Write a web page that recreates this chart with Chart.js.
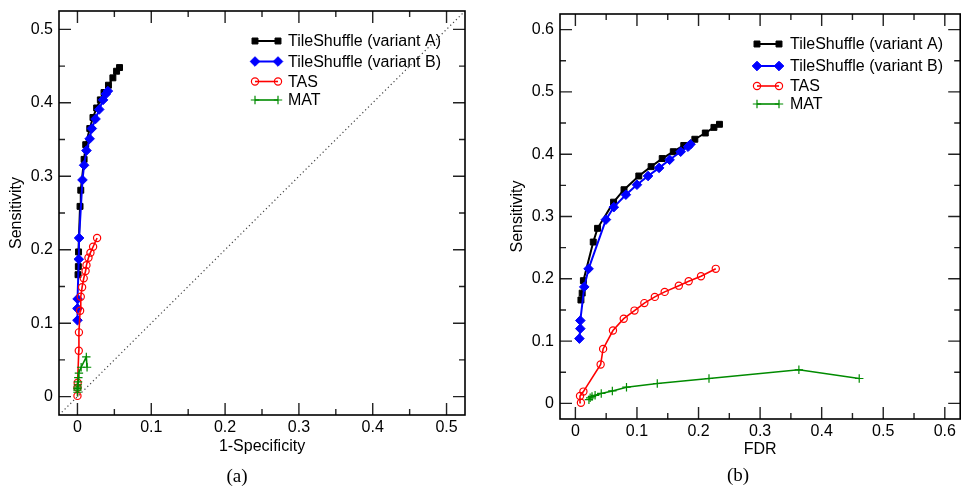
<!DOCTYPE html>
<html>
<head>
<meta charset="utf-8">
<script src="https://cdn.jsdelivr.net/npm/chart.js@4.4.0/dist/chart.umd.min.js"></script>
<style>
  html, body { margin: 0; padding: 0; background: #fff; }
  #wrap { position: relative; width: 966px; height: 490px; }
  .panel { position: absolute; top: 0; width: 483px; height: 490px; }
</style>
</head>
<body>
<div id="wrap">
  <div class="panel" style="left:0"><canvas id="rocA" width="483" height="490"></canvas></div>
  <div class="panel" style="left:483px"><canvas id="rocB" width="483" height="490"></canvas></div>
</div>
<script>
// Series names
var seriesNames = ["TileShuffle (variant A)", "TileShuffle (variant B)", "TAS", "MAT"];

// TileShuffle variant A
var sensA = [0.166, 0.177, 0.197, 0.259, 0.281, 0.323, 0.343, 0.365, 0.380, 0.393, 0.404, 0.414, 0.424, 0.434, 0.443, 0.448];
var fprA = [0.0008, 0.0012, 0.0015, 0.0035, 0.0045, 0.009, 0.0112, 0.0167, 0.021, 0.026, 0.031, 0.036, 0.042, 0.048, 0.053, 0.057];
var fdrA = [0.009, 0.011, 0.013, 0.029, 0.036, 0.062, 0.079, 0.103, 0.123, 0.141, 0.159, 0.176, 0.194, 0.211, 0.225, 0.234];

// TileShuffle variant B
var sensB = [0.104, 0.120, 0.133, 0.187, 0.216, 0.295, 0.315, 0.335, 0.351, 0.365, 0.378, 0.391, 0.404, 0.412, 0.416];
var fprB = [0.0, 0.0, 0.0002, 0.0018, 0.0022, 0.0068, 0.009, 0.0122, 0.0165, 0.0195, 0.0245, 0.0295, 0.0347, 0.0385, 0.0412];
var fdrB = [0.0065, 0.008, 0.008, 0.0144, 0.0214, 0.0496, 0.0624, 0.082, 0.100, 0.118, 0.136, 0.153, 0.171, 0.183, 0.187];

// TAS
var sensTAS = [0.001, 0.012, 0.019, 0.0625, 0.0875, 0.117, 0.136, 0.149, 0.161, 0.171, 0.179, 0.189, 0.196, 0.204, 0.216];
var fprTAS = [0.0, 0.0, 0.0003, 0.0018, 0.002, 0.0036, 0.0045, 0.0063, 0.0085, 0.011, 0.0122, 0.0149, 0.0176, 0.0212, 0.0266];
var fdrTAS = [0.009, 0.0075, 0.013, 0.041, 0.045, 0.061, 0.0785, 0.096, 0.112, 0.129, 0.145, 0.168, 0.184, 0.204, 0.228];

// MAT
var sensMAT = [0.006, 0.009, 0.011, 0.013, 0.016, 0.020, 0.026, 0.032, 0.040, 0.054, 0.040];
var fprMAT = [0.0, 0.0, 0.0, 0.0003, 0.0005, 0.0008, 0.0012, 0.002, 0.005, 0.012, 0.013];
var fdrMAT = [0.022, 0.024, 0.027, 0.032, 0.042, 0.060, 0.083, 0.133, 0.217, 0.363, 0.461];

// Tick labels
var ticksA = [0, 0.1, 0.2, 0.3, 0.4, 0.5];
var ticksB = [0, 0.1, 0.2, 0.3, 0.4, 0.5, 0.6];
var diagonal = [-0.025, 0.525];

var FONT = "'Liberation Sans', Arial, sans-serif";

function series(xList, yList) {
  return xList.map(function (x, i) {
    return { x: x, y: yList[i] };
  });
}

// styles shared by the chart and the legend
var styles = [
  { color: "#000000", fill: "#000000", width: 2, point: "rect", radius: 4.2, pw: 1 },
  { color: "#0000ff", fill: "#0000ff", width: 2, point: "rectRot", radius: 4.8, pw: 1 },
  { color: "#ff0000", fill: "rgba(0,0,0,0)", width: 1.6, point: "circle", radius: 3.6, pw: 1.2 },
  { color: "#008b00", fill: "#008b00", width: 1.6, point: "cross", radius: 4.2, pw: 1.2 },
];

function makeDatasets(xLists, yLists, withDiagonal) {
  var sets = xLists.map(function (xs, i) {
    var s = styles[i];
    return {
      label: seriesNames[i],
      data: series(xs, yLists[i]),
      showLine: true,
      borderColor: s.color,
      backgroundColor: s.fill,
      borderWidth: s.width,
      pointStyle: s.point,
      pointRadius: s.radius,
      pointBorderWidth: s.pw,
      pointBorderColor: s.color,
      pointBackgroundColor: s.fill,
      order: 4 - i,
    };
  });
  if (withDiagonal) {
    sets.push({
      label: "diag",
      data: series(diagonal, diagonal),
      showLine: true,
      borderColor: "#444",
      borderWidth: 1.2,
      borderDash: [1.2, 2.8],
      pointRadius: 0,
      order: 10,
    });
  }
  return sets;
}

function drawMarker(ctx, s, x, y) {
  var r = s.radius;
  ctx.save();
  ctx.strokeStyle = s.color;
  ctx.fillStyle = s.fill;
  ctx.lineWidth = s.pw;
  ctx.beginPath();
  if (s.point === "rect") {
    var h = r * Math.SQRT1_2;
    ctx.rect(x - h, y - h, 2 * h, 2 * h);
    ctx.fill();
    ctx.stroke();
  } else if (s.point === "rectRot") {
    ctx.moveTo(x, y - r);
    ctx.lineTo(x + r, y);
    ctx.lineTo(x, y + r);
    ctx.lineTo(x - r, y);
    ctx.closePath();
    ctx.fill();
    ctx.stroke();
  } else if (s.point === "circle") {
    ctx.arc(x, y, r, 0, Math.PI * 2);
    ctx.stroke();
  } else {
    ctx.moveTo(x - r, y);
    ctx.lineTo(x + r, y);
    ctx.moveTo(x, y - r);
    ctx.lineTo(x, y + r);
    ctx.stroke();
  }
  ctx.restore();
}

// panel settings, looked up by canvas id
var decorById = {
  rocA: {
    ticks: ticksA, max: 0.525,
    xTitle: "1-Specificity", xTitleY: 447, yTitleX: 17,
    legendX: [255, 278, 288], legendY: [41, 61.5, 81.5, 100],
    caption: "(a)", capX: 237, capY: 477,
  },
  rocB: {
    ticks: ticksB, max: 0.625,
    xTitle: "FDR", xTitleY: 450, yTitleX: 35,
    legendX: [274, 296, 307], legendY: [44, 66, 86, 104],
    caption: "(b)", capX: 255, capY: 476,
  },
};

// frame, inward ticks, tick labels, titles, legend and caption
var decorPlugin = {
  id: "decor",
  afterDraw: function (chart) {
    var o = decorById[chart.canvas.id];
    var ctx = chart.ctx;
    var a = chart.chartArea;
    var xs = chart.scales.x;
    var ys = chart.scales.y;
    ctx.save();
    ctx.strokeStyle = "#222";
    ctx.lineWidth = 1.4;
    o.ticks.forEach(function (v) {
      [v, v + 0.05].forEach(function (t, k) {
        var len = k === 0 ? 12 : 6;
        if (t > o.max) return;
        var px = xs.getPixelForValue(t);
        var py = ys.getPixelForValue(t);
        ctx.beginPath();
        ctx.moveTo(px, a.bottom);
        ctx.lineTo(px, a.bottom - len);
        ctx.moveTo(px, a.top);
        ctx.lineTo(px, a.top + len);
        ctx.moveTo(a.left, py);
        ctx.lineTo(a.left + len, py);
        ctx.moveTo(a.right, py);
        ctx.lineTo(a.right - len, py);
        ctx.stroke();
      });
    });
    ctx.strokeStyle = "#000";
    ctx.lineWidth = 1.6;
    ctx.strokeRect(a.left, a.top, a.right - a.left, a.bottom - a.top);

    // tick labels
    ctx.fillStyle = "#000";
    ctx.font = "16px " + FONT;
    ctx.textBaseline = "middle";
    o.ticks.forEach(function (v) {
      ctx.textAlign = "center";
      ctx.fillText(String(v), xs.getPixelForValue(v), a.bottom + 13);
      ctx.textAlign = "right";
      ctx.fillText(String(v), a.left - 6, ys.getPixelForValue(v));
    });

    // axis titles
    ctx.textAlign = "center";
    ctx.fillText(o.xTitle, (a.left + a.right) / 2, o.xTitleY);
    ctx.save();
    ctx.translate(o.yTitleX, (a.top + a.bottom) / 2);
    ctx.rotate(-Math.PI / 2);
    ctx.fillText("Sensitivity", 0, 0);
    ctx.restore();

    // legend
    ctx.textAlign = "left";
    seriesNames.forEach(function (name, i) {
      var y = o.legendY[i];
      var s = styles[i];
      ctx.save();
      ctx.strokeStyle = s.color;
      ctx.lineWidth = s.width;
      ctx.beginPath();
      ctx.moveTo(o.legendX[0], y);
      ctx.lineTo(o.legendX[1], y);
      ctx.stroke();
      ctx.restore();
      drawMarker(ctx, s, o.legendX[0], y);
      drawMarker(ctx, s, o.legendX[1], y);
      ctx.fillStyle = "#000";
      ctx.fillText(name, o.legendX[2], y + 1);
    });

    // caption
    ctx.textAlign = "center";
    ctx.font = "19px 'Liberation Serif', 'DejaVu Serif', serif";
    ctx.fillText(o.caption, o.capX, o.capY);
    ctx.restore();
  },
};

function makeChart(id, cfg) {
  var W = 483, H = 490, xH = 40;
  function axis(pos) {
    return {
      type: "linear",
      position: pos,
      min: -0.025,
      max: cfg.max,
      grid: { display: false, drawTicks: false },
      border: { display: false },
      ticks: { display: false },
      afterFit: function (scale) {
        if (pos === "left") scale.width = cfg.area.left;
        else scale.height = xH;
      },
    };
  }
  var ctx = document.getElementById(id).getContext("2d");
  return new Chart(ctx, {
    type: "scatter",
    data: { datasets: makeDatasets(cfg.xLists, [sensA, sensB, sensTAS, sensMAT], cfg.diag) },
    options: {
      responsive: false,
      animation: false,
      events: [],
      devicePixelRatio: 1,
      layout: {
        padding: {
          left: 0,
          top: cfg.area.top,
          right: W - cfg.area.right,
          bottom: H - cfg.area.bottom - xH,
        },
      },
      elements: { line: { tension: 0 } },
      scales: { x: axis("bottom"), y: axis("left") },
      plugins: {
        legend: { display: false },
        tooltip: { enabled: false },
      },
    },
    plugins: [decorPlugin],
  });
}

// (a) ROC: 1-Specificity vs Sensitivity
makeChart("rocA", {
  area: { left: 59, right: 465, top: 11, bottom: 415 },
  max: 0.525,
  diag: true,
  xLists: [fprA, fprB, fprTAS, fprMAT],
});

// (b) FDR vs Sensitivity
makeChart("rocB", {
  area: { left: 77, right: 482, top: 14, bottom: 419 },
  max: 0.625,
  diag: false,
  xLists: [fdrA, fdrB, fdrTAS, fdrMAT],
});
</script>
</body>
</html>
